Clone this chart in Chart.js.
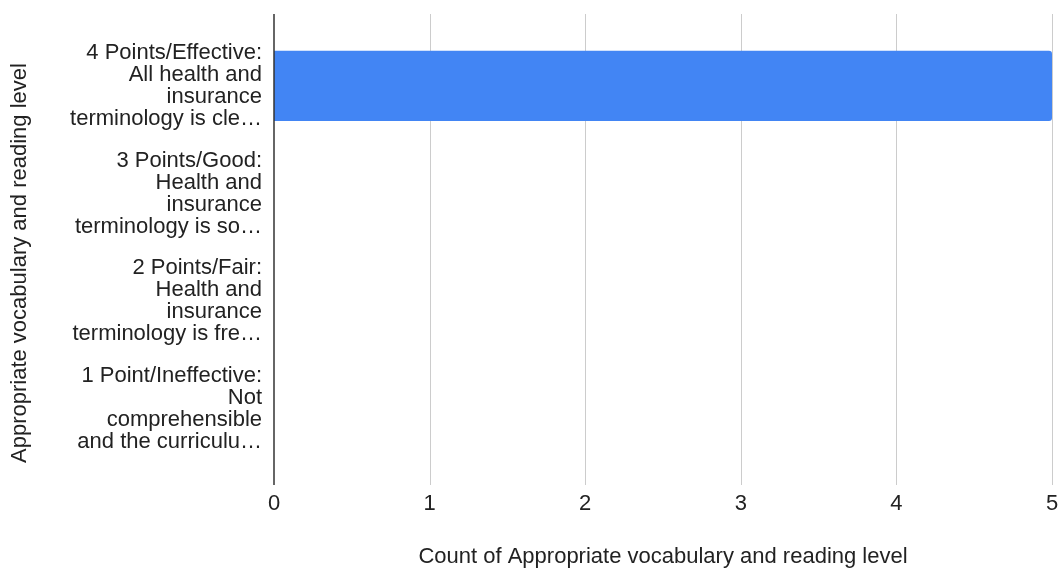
<!DOCTYPE html>
<html>
<head>
<meta charset="utf-8">
<script src="https://cdn.jsdelivr.net/npm/chart.js@4.4.1/dist/chart.umd.min.js"></script>
<style>
  html, body { margin: 0; padding: 0; background: #fff; }
  #wrap { width: 1060px; height: 572px; position: relative; }
</style>
</head>
<body>
<div id="wrap"><canvas id="c" width="1060" height="572"></canvas></div>
<script>
// Rubric levels (category axis, top to bottom)
const categories = [
  ["4 Points/Effective:", "All health and", "insurance", "terminology is cle\u2026"],
  ["3 Points/Good:", "Health and", "insurance", "terminology is so\u2026"],
  ["2 Points/Fair:", "Health and", "insurance", "terminology is fre\u2026"],
  ["1 Point/Ineffective:", "Not", "comprehensible", "and the curriculu\u2026"]
];
// Number of responses per level
const counts = [5, 0, 0, 0];
// Value axis ticks
const xTicks = [0, 1, 2, 3, 4, 5];

const FONT = "'Liberation Sans', Arial, sans-serif";

// Extends the vertical gridlines and the zero baseline above/below the plot area
const gridPlugin = {
  id: 'extendedGrid',
  beforeDatasetsDraw(chart) {
    const {ctx, chartArea, scales: {x}} = chart;
    ctx.save();
    ctx.strokeStyle = '#cccccc';
    ctx.lineWidth = 1;
    xTicks.forEach(v => {
      if (v === 0) return;
      const px = Math.round(x.getPixelForValue(v)) + 0.5;
      ctx.beginPath();
      ctx.moveTo(px, chartArea.top - 18);
      ctx.lineTo(px, chartArea.bottom + 22);
      ctx.stroke();
    });
    ctx.restore();
  },
  afterDatasetsDraw(chart) {
    const {ctx, chartArea, scales: {x}} = chart;
    ctx.save();
    ctx.strokeStyle = '#333333';
    ctx.lineWidth = 1.5;
    const px = Math.round(x.getPixelForValue(0));
    ctx.beginPath();
    ctx.moveTo(px, chartArea.top - 18);
    ctx.lineTo(px, chartArea.bottom + 22);
    ctx.stroke();
    ctx.restore();
  }
};

new Chart(document.getElementById('c'), {
  type: 'bar',
  data: {
    labels: categories,
    datasets: [{
      label: 'Count of Appropriate vocabulary and reading level',
      data: counts,
      backgroundColor: '#4285f4',
      borderWidth: 0,
      borderRadius: 3,
      borderSkipped: 'start',
      categoryPercentage: 1,
      barPercentage: 0.65
    }]
  },
  options: {
    indexAxis: 'y',
    responsive: false,
    animation: false,
    layout: { padding: { top: 32, right: 8, left: 0, bottom: 0 } },
    plugins: {
      legend: { display: false },
      tooltip: { enabled: false }
    },
    scales: {
      x: {
        type: 'linear',
        min: 0,
        max: 5,
        afterBuildTicks(scale) { scale.ticks = xTicks.map(v => ({ value: v })); },
        afterFit(scale) {
          scale.height = 109;
          scale.paddingLeft = 0;
          scale.paddingRight = 0;
        },
        grid: { display: false, drawTicks: false },
        border: { display: false },
        ticks: {
          padding: 28,
          color: '#222222',
          font: { family: FONT, size: 22 }
        },
        title: {
          display: true,
          text: 'Count of Appropriate vocabulary and reading level',
          color: '#222222',
          font: { family: FONT, size: 22 },
          padding: { top: 0, bottom: 2 }
        }
      },
      y: {
        type: 'category',
        afterFit(scale) {
          scale.width = 274;
          scale.paddingTop = 0;
          scale.paddingBottom = 0;
        },
        grid: { display: false, drawTicks: false },
        border: { display: false },
        ticks: {
          padding: 12,
          color: '#222222',
          font: { family: FONT, size: 22, lineHeight: 1.0 }
        },
        title: {
          display: true,
          align: 'start',
          text: 'Appropriate vocabulary and reading level',
          color: '#222222',
          font: { family: FONT, size: 22 },
          padding: { top: 7, bottom: 0 }
        }
      }
    }
  },
  plugins: [gridPlugin]
});
</script>
</body>
</html>
